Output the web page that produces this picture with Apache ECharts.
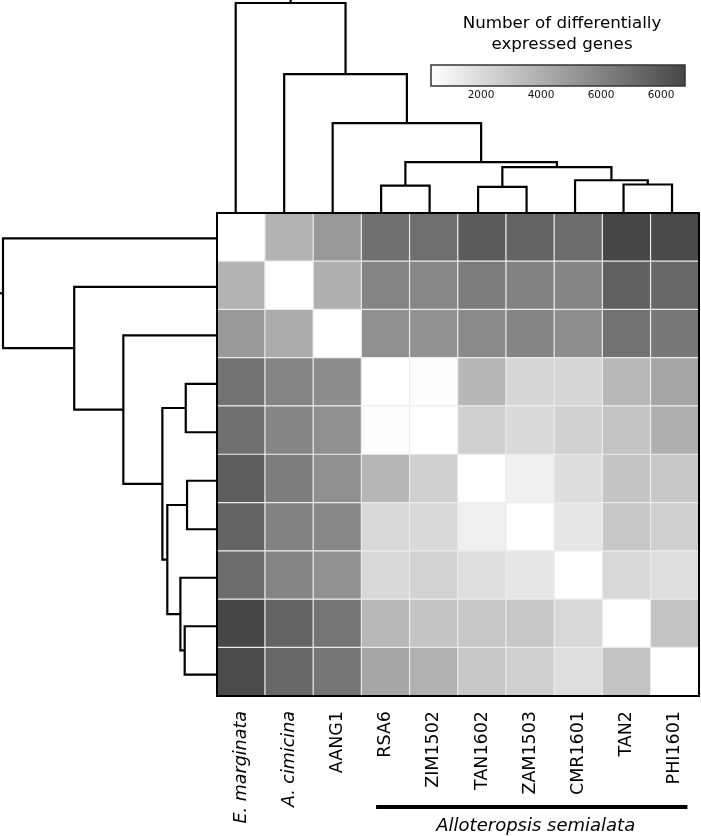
<!DOCTYPE html>
<html>
<head>
<meta charset="utf-8">
<script src="https://cdn.jsdelivr.net/npm/echarts@6/dist/echarts.min.js"></script>
<style>
html,body{margin:0;padding:0;background:#fff;}
#chart{width:701px;height:836px;}
</style>
</head>
<body>
<div id="chart"></div>
<script>
// ---- data ----
const names = ['E. marginata','A. cimicina','AANG1','RSA6','ZIM1502','TAN1602','ZAM1503','CMR1601','TAN2','PHI1601'];
const italicNames = [true, true, false, false, false, false, false, false, false, false];
const deCounts = [
  [0, 3800, 5050, 6860, 6950, 7780, 7410, 7040, 8800, 8610],
  [3800, 0, 3990, 5980, 5840, 6350, 6070, 5930, 7600, 7230],
  [5010, 4130, 0, 5470, 5330, 5700, 5980, 5520, 6770, 6530],
  [6770, 5980, 5560, 0, 470, 3620, 2230, 2230, 3570, 4450],
  [6900, 5930, 5470, 470, 0, 2550, 2050, 2420, 3060, 3990],
  [7740, 6260, 5470, 3660, 2550, 0, 1070, 1900, 2970, 2830],
  [7410, 6120, 5840, 2140, 2050, 1070, 0, 1490, 2880, 2510],
  [7040, 5980, 5380, 2140, 2370, 1860, 1490, 0, 2140, 1860],
  [8750, 7410, 6630, 3570, 2970, 2880, 2880, 2140, 0, 3060],
  [8570, 7230, 6630, 4450, 3900, 2830, 2550, 1860, 3060, 0]
];
// linkage (scipy-style ids: leaves 0..9, merges 10..18)
const linkLeft   = [3, 5, 8, 7, 11, 10, 2, 1, 0];
const linkRight  = [4, 6, 9, 12, 13, 14, 15, 16, 17];
const linkHeight = [1.48, 1.42, 1.53, 1.73, 2.34, 2.57, 4.39, 6.68, 10.0];
const colorMin = 333;
const colorMax = 8800;
const colorStops = ['#ffffff', '#464646'];
const colorbarTicks = [2000, 4000, 6000, 8000];
const colorbarTickLabels = ['2000', '4000', '6000', '6000'];
const colorbarTitle = 'Number of differentially\nexpressed genes';
const groupLabel = 'Alloteropsis semialata';
const groupFrom = 'RSA6';
const groupTo = 'PHI1601';

// ---- derived ----
const heatData = [];
deCounts.forEach((row, r) => row.forEach((v, c) => heatData.push([c, r, v])));

const nLeaf = names.length;
const nodePos = [], nodeH = [];
for (let i = 0; i < nLeaf; i++) { nodePos[i] = i; nodeH[i] = 0; }
const dendroData = [];
linkLeft.forEach((a, k) => {
  const b = linkRight[k], h = linkHeight[k];
  dendroData.push([nodePos[a], nodePos[b], nodeH[a], nodeH[b], h, k === linkLeft.length - 1 ? 1 : 0]);
  nodePos[nLeaf + k] = (nodePos[a] + nodePos[b]) / 2;
  nodeH[nLeaf + k] = h;
});

const FONT = 'DejaVu Sans';
const lineStyle = { stroke: '#000', lineWidth: 2.2, fill: null, lineJoin: 'miter' };

function dendroRender(vertical) {
  // vertical=true: top dendrogram (x = position, y = height)
  return function (params, api) {
    const pa = api.value(0), pb = api.value(1), ha = api.value(2), hb = api.value(3), h = api.value(4);
    const P = (pos, hh) => vertical ? api.coord([pos, hh]) : api.coord([hh, pos]);
    const children = [{
      type: 'polyline',
      shape: { points: [P(pa, ha), P(pa, h), P(pb, h), P(pb, hb)] },
      style: lineStyle
    }];
    if (api.value(5) === 1) {
      const mid = (pa + pb) / 2;
      const cs = params.coordSys;
      const p0 = P(mid, h);
      const p1 = vertical ? [p0[0], cs.y] : [cs.x, p0[1]];
      children.push({ type: 'line', shape: { x1: p0[0], y1: p0[1], x2: p1[0], y2: p1[1] }, style: lineStyle });
    }
    return { type: 'group', children };
  };
}

const chart = echarts.init(document.getElementById('chart'), null, { renderer: 'canvas' });
const frameAxis = { show: true, lineStyle: { color: '#000', width: 2 } };

const option = {
  animation: false,
  backgroundColor: '#fff',
  textStyle: { fontFamily: FONT },
  title: {
    text: colorbarTitle,
    left: 557, top: 8, textAlign: 'center',
    textStyle: { fontFamily: FONT, fontSize: 16.7, fontWeight: 'normal', color: '#000', lineHeight: 21 }
  },
  grid: [
    { left: 217, top: 213, width: 482, height: 483 },
    { left: 211.46, top: 0, width: 484.8, height: 217.3 },
    { left: 0, top: 214.06, width: 217.5, height: 484.9 },
    { left: 431, top: 65, width: 254, height: 21 }
  ],
  xAxis: [
    { gridIndex: 0, type: 'category', data: names, position: 'bottom', z: 10,
      axisLine: frameAxis, axisTick: { show: false }, splitLine: { show: false },
      axisLabel: {
        rotate: 90, margin: 15, color: '#000', fontSize: 17.5, fontFamily: FONT,
        formatter: (v, i) => italicNames[i] ? '{i|' + v + '}' : v,
        rich: { i: { fontStyle: 'italic', fontSize: 17.5, fontFamily: FONT, color: '#000' } }
      } },
    { gridIndex: 0, type: 'category', data: names, position: 'top', z: 10,
      axisLine: frameAxis, axisTick: { show: false }, axisLabel: { show: false }, splitLine: { show: false } },
    { gridIndex: 1, type: 'value', min: -0.5, max: 9.5, show: false },
    { gridIndex: 2, type: 'value', min: 0, max: 10.14, inverse: true, show: false },
    { gridIndex: 3, type: 'value', min: colorMin, max: colorMax,
      axisLine: { show: false }, axisTick: { show: false }, splitLine: { show: false },
      axisLabel: { customValues: colorbarTicks, margin: 4, fontSize: 10.5, color: '#111', fontFamily: FONT,
        formatter: (v) => { const k = colorbarTicks.indexOf(v); return k >= 0 ? colorbarTickLabels[k] : ''; } } }
  ],
  yAxis: [
    { gridIndex: 0, type: 'category', data: names, inverse: true, position: 'left', z: 10,
      axisLine: frameAxis, axisTick: { show: false }, axisLabel: { show: false }, splitLine: { show: false } },
    { gridIndex: 0, type: 'category', data: names, inverse: true, position: 'right', z: 10,
      axisLine: frameAxis, axisTick: { show: false }, axisLabel: { show: false }, splitLine: { show: false } },
    { gridIndex: 1, type: 'value', min: 0, max: 10.14, show: false },
    { gridIndex: 2, type: 'value', min: -0.5, max: 9.5, inverse: true, show: false },
    { gridIndex: 3, type: 'value', min: 0, max: 1, show: false }
  ],
  visualMap: {
    show: false, type: 'continuous', seriesIndex: 2, dimension: 2,
    min: colorMin, max: colorMax,
    inRange: { color: colorStops }, outOfRange: { color: ['#ffffff'] }
  },
  series: [
    { type: 'custom', xAxisIndex: 2, yAxisIndex: 2, data: dendroData, renderItem: dendroRender(true), z: 1, silent: true,
      encode: { x: 0, y: 4 } },
    { type: 'custom', xAxisIndex: 3, yAxisIndex: 3, data: dendroData, renderItem: dendroRender(false), z: 1, silent: true,
      encode: { x: 4, y: 0 } },
    { type: 'heatmap', xAxisIndex: 0, yAxisIndex: 0, data: heatData, z: 5,
      itemStyle: { borderColor: '#ececec', borderWidth: 1.2 }, emphasis: { disabled: true } },
    { type: 'custom', xAxisIndex: 4, yAxisIndex: 4, data: [[colorMin, colorMax]], silent: true,
      encode: { x: [0, 1] },
      renderItem: function (params, api) {
        const p0 = api.coord([api.value(0), 0]);
        const p1 = api.coord([api.value(1), 1]);
        return {
          type: 'rect',
          shape: { x: p0[0], y: p1[1], width: p1[0] - p0[0], height: p0[1] - p1[1] },
          style: {
            fill: new echarts.graphic.LinearGradient(0, 0, 1, 0,
              colorStops.map((c, i) => ({ offset: i / (colorStops.length - 1), color: c }))),
            stroke: '#333', lineWidth: 1.5
          }
        };
      } }
  ]
};
chart.setOption(option);

// group annotation under the axis labels, positioned from the axis scale
const cA = chart.convertToPixel({ xAxisIndex: 0 }, groupFrom);
const cB = chart.convertToPixel({ xAxisIndex: 0 }, groupTo);
const cellW = (cB - cA) / (names.indexOf(groupTo) - names.indexOf(groupFrom));
const x1 = cA - 0.2 * cellW, x2 = cB + 0.26 * cellW;
chart.setOption({
  graphic: [
    { type: 'rect', shape: { x: x1, y: 805, width: x2 - x1, height: 4 }, style: { fill: '#000' } },
    { type: 'text', x: (x1 + x2) / 2 + 4, y: 826,
      style: { text: groupLabel, fontFamily: FONT, fontStyle: 'italic', fontSize: 18, fill: '#000',
        align: 'center', verticalAlign: 'middle' } }
  ]
});
</script>
</body>
</html>
